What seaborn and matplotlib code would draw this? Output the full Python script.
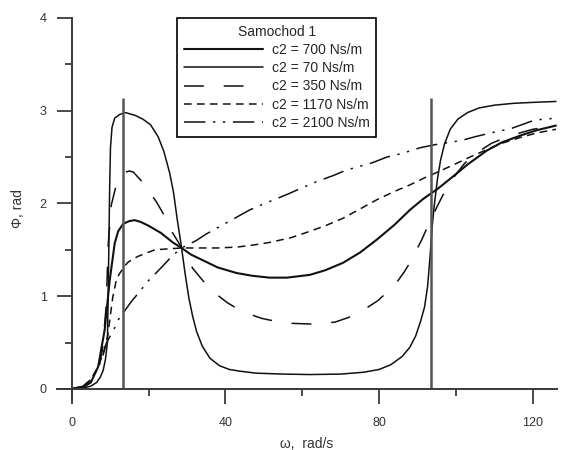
import seaborn as sns
import matplotlib
matplotlib.use("Agg")
import matplotlib.pyplot as plt
from matplotlib.ticker import MultipleLocator

# values (omega in rad/s, phi in rad)
w_700 = [0, 3, 5, 6.9, 8.6, 9.9, 11.2, 12.1, 13.4, 15, 16.4, 18, 20, 23.3, 26.3, 28.6,
         31, 34, 38, 42.9, 47, 51.5, 56, 62, 66, 70.6, 75, 79.4, 84, 88, 91.5, 95.3,
         99.2, 103, 108, 112, 116.6, 121, 126]
phi_700 = [0, 0.02, 0.07, 0.24, 0.64, 1.17, 1.57, 1.7, 1.78, 1.81, 1.82, 1.8, 1.76, 1.68,
           1.58, 1.52, 1.45, 1.39, 1.31, 1.25, 1.22, 1.2, 1.2, 1.23, 1.28, 1.36, 1.47, 1.61,
           1.77, 1.93, 2.05, 2.16, 2.29, 2.42, 2.57, 2.66, 2.73, 2.79, 2.84]

w_70 = [0, 3, 5, 6.5, 7.5, 8.2, 8.8, 9.3, 9.5, 9.7, 9.9, 10.1, 10.5, 11.2, 12.5, 14,
        16.5, 18.5, 20.5, 22.5, 24, 25.5, 26.5, 27.5, 28.5, 29.5, 30.5, 31.5, 32.5, 34,
        36, 38.5, 41, 44, 48, 55, 62, 70, 76, 80, 83, 86, 88, 89.5, 90.8, 91.8, 92.6,
        93.2, 93.8, 94.4, 95.2, 96, 97, 98.5, 100.5, 103, 106, 110, 115, 120, 126]
phi_70 = [0, 0.01, 0.03, 0.07, 0.13, 0.2, 0.32, 0.5, 1.0, 1.6, 2.2, 2.6, 2.82, 2.92, 2.96,
          2.98, 2.95, 2.91, 2.85, 2.72, 2.56, 2.33, 2.12, 1.82, 1.55, 1.25, 0.98, 0.78,
          0.62, 0.46, 0.33, 0.25, 0.21, 0.19, 0.17, 0.16, 0.155, 0.16, 0.18, 0.21, 0.26,
          0.35, 0.45, 0.57, 0.73, 0.88, 1.1, 1.4, 1.75, 2.0, 2.27, 2.47, 2.64, 2.8, 2.91,
          2.98, 3.03, 3.06, 3.08, 3.09, 3.1]

w_350 = [0, 3, 5, 7, 8, 9, 9.5, 10.3, 11.6, 12.5, 13.5, 15, 16, 18, 19.8, 22, 23.7, 25,
         26.3, 27.5, 28.6, 29.9, 31.5, 33.3, 35.5, 38, 40.5, 42.9, 46, 49.5, 55.4, 62,
         68.5, 72, 74.4, 77, 79.6, 82, 84.6, 86.5, 88, 89.5, 91.1, 92.5, 93.7, 95, 96.6,
         99.2, 102, 104.4, 109.3, 114, 120, 126]
phi_350 = [0, 0.02, 0.07, 0.22, 0.42, 0.9, 1.55, 1.98, 2.2, 2.28, 2.33, 2.35, 2.34, 2.25,
           2.15, 2.02, 1.9, 1.8, 1.68, 1.6, 1.52, 1.42, 1.3, 1.21, 1.1, 1.01, 0.93, 0.87,
           0.81, 0.76, 0.71, 0.7, 0.72, 0.77, 0.82, 0.88, 0.95, 1.04, 1.15, 1.26, 1.36,
           1.48, 1.61, 1.74, 1.84, 1.96, 2.09, 2.27, 2.42, 2.52, 2.65, 2.73, 2.8, 2.84]

w_1170 = [0, 3, 5, 7, 8.5, 9.4, 10.7, 11.6, 12.4, 13.4, 14.5, 15.5, 17.3, 21.6, 25, 28.6,
          33, 38, 43, 47, 51.5, 57, 62, 66, 70.6, 75, 79.4, 84, 88, 92, 95.3, 99, 103.6,
          108, 112, 116.6, 121, 126]
phi_1170 = [0, 0.03, 0.1, 0.25, 0.42, 0.58, 0.99, 1.17, 1.24, 1.3, 1.36, 1.39, 1.43, 1.5,
            1.51, 1.52, 1.52, 1.52, 1.53, 1.55, 1.58, 1.63, 1.7, 1.76, 1.84, 1.94, 2.04,
            2.13, 2.2, 2.28, 2.34, 2.41, 2.5, 2.58, 2.65, 2.71, 2.76, 2.8]

w_2100 = [0, 3, 5, 6.5, 8, 9, 10, 11.2, 12.2, 13.4, 15.5, 17.3, 19.8, 22.9, 26.3, 28.6,
          32.4, 35, 38.5, 42.4, 46.3, 49.7, 56.2, 60, 64, 68, 71.5, 78.3, 82, 86, 90.6,
          94, 101.5, 105, 109, 114.5, 120.5, 126]
phi_2100 = [0, 0.03, 0.1, 0.2, 0.34, 0.49, 0.57, 0.66, 0.75, 0.82, 0.94, 1.03, 1.16, 1.29,
            1.44, 1.52, 1.6, 1.67, 1.75, 1.84, 1.93, 1.99, 2.1, 2.17, 2.24, 2.3, 2.36, 2.44,
            2.5, 2.54, 2.6, 2.63, 2.68, 2.72, 2.76, 2.81, 2.9, 2.92]

labels = ["c2 = 700 Ns/m", "c2 = 70 Ns/m", "c2 = 350 Ns/m", "c2 = 1170 Ns/m", "c2 = 2100 Ns/m"]
series = [(w_700, phi_700), (w_70, phi_70), (w_350, phi_350), (w_1170, phi_1170), (w_2100, phi_2100)]
styles = ["-", "-", (0, (13, 13)), (0, (5, 3.5)), (0, (14, 5, 1.5, 5, 1.5, 5))]
widths = [1.5, 1.1, 1.1, 1.1, 1.1]

# vertical markers
v_lines = [13.3, 93.45]
v_top = 3.14

sns.set_style("ticks")
plt.rcParams['font.family'] = ['Liberation Sans', 'DejaVu Sans']

fig = plt.figure(figsize=(5.61, 4.5), dpi=100)
ax = fig.add_axes([0.101, 0.111, 0.892, 0.849])

for (x, y), lab, ls, lw in zip(series, labels, styles, widths):
    sns.lineplot(x=x, y=y, ax=ax, color="#111111", lw=lw, linestyle=ls,
                 label=lab, estimator=None, sort=False)

ax.vlines(v_lines, 0, v_top, color="#555555", lw=1.8)

ax.set_xlim(-3.9, 126.3)
ax.set_ylim(-0.12, 4.0)
ax.spines['left'].set_position(('data', 0))
ax.spines['bottom'].set_position(('data', 0))
for s in ['top', 'right']:
    ax.spines[s].set_visible(False)
for s in ['left', 'bottom']:
    ax.spines[s].set_color("#3a3a3a")
    ax.spines[s].set_linewidth(1.4)

ax.xaxis.set_major_locator(MultipleLocator(40))
ax.xaxis.set_minor_locator(MultipleLocator(20))
ax.yaxis.set_major_locator(MultipleLocator(1))
ax.yaxis.set_minor_locator(MultipleLocator(0.5))
ax.tick_params(which='major', length=11, width=1.3, color="#3a3a3a", pad=7,
               labelsize=9, labelcolor="#333333")
ax.tick_params(axis='x', which='major', pad=9)
ax.tick_params(which='minor', length=5, width=1.3, color="#3a3a3a")

ax.set_xlabel("ω,  rad/s", fontsize=10, color="#333333", labelpad=6)
ax.set_ylabel("Φ, rad", fontsize=10, color="#333333")
ax.yaxis.set_label_coords(-0.063, 0.5)

leg = ax.legend(title="Samochod 1", loc="upper left", bbox_to_anchor=(0.2406, 1.0),
                borderaxespad=0, fontsize=10, title_fontsize=10, handlelength=5.7,
                handletextpad=0.6, labelspacing=0.3, borderpad=0.5,
                fancybox=False, framealpha=1, edgecolor="black")
leg.get_frame().set_linewidth(1.2)

plt.savefig("out.png", dpi=100)
